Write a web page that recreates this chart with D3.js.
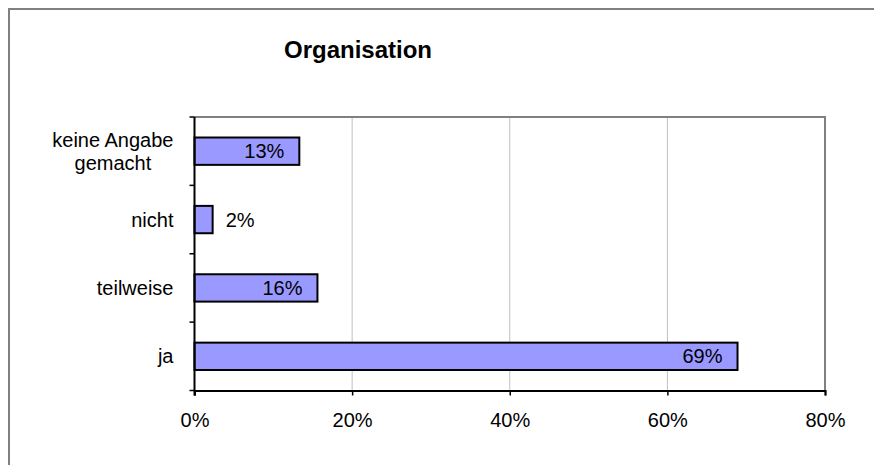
<!DOCTYPE html>
<html>
<head>
<meta charset="utf-8">
<script src="https://cdnjs.cloudflare.com/ajax/libs/d3/7.8.5/d3.min.js"></script>
<style>
  html, body { margin: 0; padding: 0; background: #fff; }
  svg { display: block; font-family: Arial, "Liberation Sans", sans-serif; }
</style>
</head>
<body>
<svg id="chart" width="874" height="465"></svg>
<script>
// data (percent)
const categories = [['keine Angabe', 'gemacht'], ['nicht'], ['teilweise'], ['ja']];
const values = [13.3, 2.3, 15.6, 68.9];
const xTicks = [0, 20, 40, 60, 80];

const width = 874, height = 465;
const plot = { left: 194.5, right: 825, top: 117, bottom: 390.5 };

const svg = d3.select('#chart');

// outer frame (runs past the window on the right and bottom)
svg.append('rect')
  .attr('x', 9).attr('y', 9)
  .attr('width', 900).attr('height', 500)
  .attr('fill', 'none')
  .attr('stroke', '#808080')
  .attr('stroke-width', 2);

svg.append('text')
  .attr('x', 358).attr('y', 58)
  .attr('text-anchor', 'middle')
  .style('font-size', '24px')
  .style('font-weight', 'bold')
  .text('Organisation');

const xScale = d3.scaleLinear()
  .domain([0, 80])
  .range([plot.left, plot.right]);
const yScale = d3.scaleBand()
  .domain(d3.range(categories.length))
  .range([plot.top, plot.bottom])
  .paddingInner(0.6)
  .paddingOuter(0.3);

// gridlines
svg.append('g')
  .selectAll('line')
  .data(xTicks.filter(d => d > 0 && d < 80))
  .enter().append('line')
  .attr('x1', d => xScale(d)).attr('x2', d => xScale(d))
  .attr('y1', plot.top).attr('y2', plot.bottom)
  .attr('stroke', '#c0c0c0')
  .attr('stroke-width', 1);

// plot area border top/right
svg.append('path')
  .attr('d', `M${plot.left},${plot.top}H${plot.right}V${plot.bottom}`)
  .attr('fill', 'none')
  .attr('stroke', '#808080')
  .attr('stroke-width', 2);

// bars
svg.append('g')
  .selectAll('rect')
  .data(values)
  .enter().append('rect')
  .attr('x', xScale(0))
  .attr('y', (d, i) => yScale(i))
  .attr('width', d => xScale(d) - xScale(0))
  .attr('height', yScale.bandwidth())
  .attr('fill', '#9999ff')
  .attr('stroke', '#000')
  .attr('stroke-width', 2);

// value labels
svg.append('g')
  .selectAll('text')
  .data(values)
  .enter().append('text')
  .attr('x', d => d < 5 ? xScale(d) + 13 : xScale(d) - 15)
  .attr('y', (d, i) => yScale(i) + yScale.bandwidth() / 2 + 7)
  .attr('text-anchor', d => d < 5 ? 'start' : 'end')
  .style('font-size', '20px')
  .text(d => Math.round(d) + '%');

// x axis
const xAxis = d3.axisBottom(xScale)
  .tickValues(xTicks)
  .tickSize(5)
  .tickPadding(17)
  .tickFormat(d => d + '%');
const xAxisNode = svg.append('g')
  .attr('transform', `translate(0,${plot.bottom})`)
  .call(xAxis);
xAxisNode.select('.domain').attr('stroke', '#000').attr('stroke-width', 2);
xAxisNode.selectAll('.tick line').attr('stroke', '#000').attr('stroke-width', 1.5);
xAxisNode.selectAll('.tick text')
  .attr('fill', '#000')
  .style('font-size', '20px')
  .style('font-family', 'Arial, "Liberation Sans", sans-serif');

// y axis line and ticks at category boundaries
const step = (plot.bottom - plot.top) / categories.length;
svg.append('line')
  .attr('x1', plot.left).attr('x2', plot.left)
  .attr('y1', plot.top).attr('y2', plot.bottom + 5)
  .attr('stroke', '#000').attr('stroke-width', 2);
svg.append('g')
  .selectAll('line')
  .data(d3.range(categories.length + 1))
  .enter().append('line')
  .attr('x1', plot.left - 5).attr('x2', plot.left)
  .attr('y1', i => plot.top + i * step).attr('y2', i => plot.top + i * step)
  .attr('stroke', '#000').attr('stroke-width', 1.5);

// category labels, lines centered on each other, block right-aligned
const labelRight = 173.5;
const lineH = 23;
categories.forEach((lines, i) => {
  const cy = yScale(i) + yScale.bandwidth() / 2;
  const g = svg.append('g');
  const texts = lines.map((l, j) => g.append('text')
    .attr('y', cy + 7 + (j - (lines.length - 1) / 2) * lineH)
    .attr('text-anchor', 'middle')
    .style('font-size', '20px')
    .text(l));
  const w = d3.max(texts, t => t.node().getComputedTextLength());
  texts.forEach(t => t.attr('x', labelRight - w / 2));
});
</script>
</body>
</html>
